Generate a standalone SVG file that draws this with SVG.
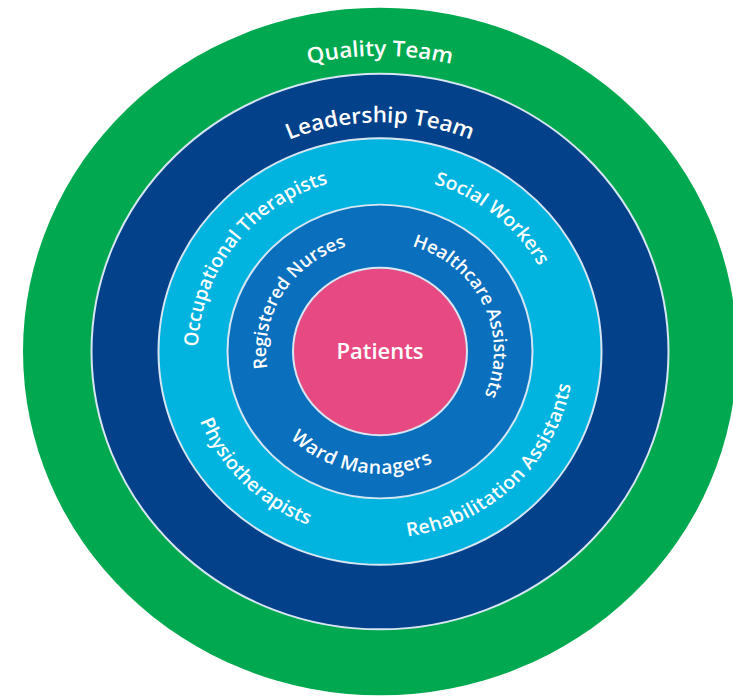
<svg xmlns="http://www.w3.org/2000/svg" width="733" height="697" viewBox="0 0 733 697">
<style>
.ring{stroke:#d6e6f2;stroke-width:2}
.lbl{font-family:"Open Sans","Liberation Sans",sans-serif;font-weight:600;fill:#ffffff}
.big{font-size:22.5px}
.mid{font-size:19.5px}
.sm{font-size:18.5px}
</style>
<defs>
<path id="pQuality" d="M -305.83 -26.76 A 307 307 0 0 1 305.83 -26.76"/>
<path id="pLeader" d="M -237.09 -20.74 A 238 238 0 0 1 237.09 -20.74"/>
<path id="pOcc" d="M -122.96 134.19 A 182 182 0 0 1 97.79 -153.50"/>
<path id="pSocial" d="M -130.92 -126.43 A 182 182 0 0 1 150.88 101.77"/>
<path id="pReg" d="M -68.61 91.04 A 114 114 0 0 1 51.76 -101.57"/>
<path id="pHealth" d="M -38.99 -107.13 A 114 114 0 0 1 57 98.73"/>
<path id="pPhysio" d="M -148.61 -124.70 A 194 194 0 0 0 124.70 148.61"/>
<path id="pRehab" d="M -127.28 146.41 A 194 194 0 0 0 150.76 -122.09"/>
<path id="pWard" d="M -126.52 -11.07 A 127 127 0 0 0 122.67 32.87"/>
</defs>
<g transform="translate(380,351.5) scale(1,0.963)">
<g id="quality-team">
<circle r="357" fill="#00a94f"/>
<text class="lbl big"><textPath href="#pQuality" startOffset="50%" text-anchor="middle">Quality Team</textPath></text>
</g>
<g id="leadership-team">
<circle class="ring" r="288.5" fill="#03418a"/>
<text class="lbl big"><textPath href="#pLeader" startOffset="50%" text-anchor="middle">Leadership Team</textPath></text>
</g>
<g id="allied-professionals">
<circle class="ring" r="221.5" fill="#00b4df"/>
<g id="occupational-therapists"><text class="lbl mid"><textPath href="#pOcc" startOffset="50%" text-anchor="middle">Occupational Therapists</textPath></text></g>
<g id="social-workers"><text class="lbl mid"><textPath href="#pSocial" startOffset="50%" text-anchor="middle">Social Workers</textPath></text></g>
<g id="physiotherapists"><text class="lbl mid"><textPath href="#pPhysio" startOffset="50%" text-anchor="middle">Physiotherapists</textPath></text></g>
<g id="rehabilitation-assistants"><text class="lbl mid" letter-spacing="0.4"><textPath href="#pRehab" startOffset="50%" text-anchor="middle">Rehabilitation Assistants</textPath></text></g>
</g>
<g id="ward-staff">
<circle class="ring" r="152.5" fill="#0a6fbd"/>
<g id="registered-nurses"><text class="lbl sm"><textPath href="#pReg" startOffset="50%" text-anchor="middle">Registered Nurses</textPath></text></g>
<g id="healthcare-assistants"><text class="lbl sm"><textPath href="#pHealth" startOffset="50%" text-anchor="middle">Healthcare Assistants</textPath></text></g>
<g id="ward-managers"><text class="lbl mid" letter-spacing="0.5"><textPath href="#pWard" startOffset="50%" text-anchor="middle">Ward Managers</textPath></text></g>
</g>
<g id="patients">
<circle class="ring" r="87" fill="#e74a82"/>
<text class="lbl" font-size="22" x="0" y="8" text-anchor="middle">Patients</text>
</g>
</g>
</svg>
